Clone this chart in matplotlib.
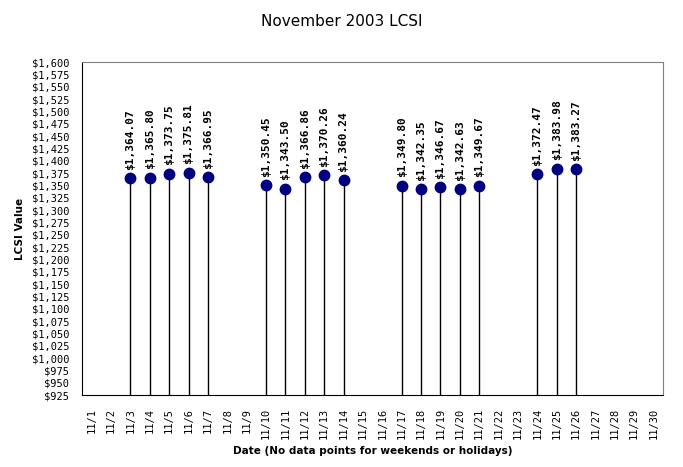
import matplotlib
matplotlib.use("Agg")
import matplotlib.pyplot as plt
import numpy as np

days = [3, 4, 5, 6, 7, 10, 11, 12, 13, 14, 17, 18, 19, 20, 21, 24, 25, 26]
values = [1364.07, 1365.80, 1373.75, 1375.81, 1366.95,
          1350.45, 1343.50, 1366.86, 1370.26, 1360.24,
          1349.80, 1342.35, 1346.67, 1342.63, 1349.67,
          1372.47, 1383.98, 1383.27]
date_labels = [f"11/{d}" for d in range(1, 31)]
y_min, y_max, y_step = 925, 1600, 25

fig = plt.figure(figsize=(6.83, 4.67), dpi=100)
ax = fig.add_axes([0.120, 0.154, 0.851, 0.713])

ax.vlines(days, y_min, values, color="black", linewidth=1)
ax.plot(days, values, "o", color="#000080", markersize=7.5, zorder=3)
for d, v in zip(days, values):
    ax.annotate(f"${v:,.2f}", (d, v), xytext=(0, 6), textcoords="offset points",
                rotation=90, ha="center", va="bottom", fontsize=8,
                fontweight="bold", family="DejaVu Sans Mono")

ax.set_xlim(0.5, 30.5)
ax.set_ylim(y_min, y_max)
ax.set_xticks(range(1, 31))
ax.set_xticklabels(date_labels, rotation=90, fontsize=7.5, family="DejaVu Sans Mono")
yt = np.arange(y_min, y_max + 1, y_step)
ax.set_yticks(yt)
ax.set_yticklabels([f"${v:,}" for v in yt], fontsize=7.5, family="DejaVu Sans Mono")
ax.tick_params(axis="both", length=0)
ax.tick_params(axis="y", pad=9)
ax.tick_params(axis="x", pad=9)

ax.spines["left"].set_color("black")
ax.spines["bottom"].set_color("black")
ax.spines["top"].set_color("#808080")
ax.spines["right"].set_color("#808080")

ax.set_ylabel("LCSI Value", fontsize=7.5, fontweight="bold", labelpad=5)
ax.set_xlabel("Date (No data points for weekends or holidays)", fontsize=7.5,
              fontweight="bold", labelpad=5)
fig.text(0.5, 0.953, "November 2003 LCSI", ha="center", va="center", fontsize=11)

fig.savefig("out.png", dpi=100)
